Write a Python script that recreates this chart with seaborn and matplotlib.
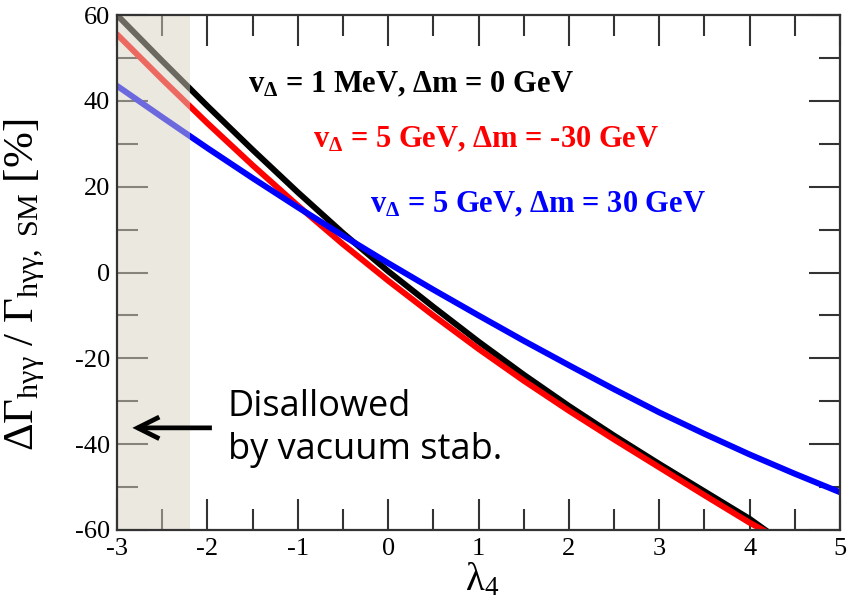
import matplotlib
matplotlib.use("Agg")
import matplotlib.pyplot as plt
import seaborn as sns
import pandas as pd
from matplotlib.ticker import MultipleLocator

# ---- data ----
lam4 = [-3.0, -2.5, -2.0, -1.5, -1.0, -0.5, 0.0, 0.5, 1.0, 1.5, 2.0, 2.5, 3.0, 3.5, 4.0, 4.2]
black_y = [60.0, 49.3, 38.8, 28.6, 18.7, 9.2, 0.3, -8.0, -16.1, -23.8, -31.1, -38.0, -44.6, -51.0, -57.4, -60.4]
red_y = [55.5, 45.0, 34.8, 25.0, 15.6, 6.6, -1.9, -10.0, -17.8, -25.2, -32.2, -38.9, -45.4, -51.9, -58.3, -60.6]

lam4_blue = [-3.0, -2.5, -2.0, -1.5, -1.0, -0.5, 0.0, 0.5, 1.0, 1.5, 2.0, 2.5, 3.0, 3.5, 4.0, 4.5, 5.0]
blue_y = [43.5, 36.2, 29.0, 22.0, 15.2, 8.6, 2.2, -4.0, -10.0, -15.9, -21.6, -27.2, -32.6, -37.6, -42.4, -46.9, -51.2]

labels = ["= 1 MeV, \u0394m = 0 GeV", "= 5 GeV, \u0394m = -30 GeV", "= 5 GeV, \u0394m = 30 GeV"]
note_lines = ["Disallowed", "by vacuum stab."]
x_ticks = [-3, -2, -1, 0, 1, 2, 3, 4, 5]
y_ticks = [-60, -40, -20, 0, 20, 40, 60]

df_black = pd.DataFrame({"lam4": lam4, "val": black_y})
df_red = pd.DataFrame({"lam4": lam4, "val": red_y})
df_blue = pd.DataFrame({"lam4": lam4_blue, "val": blue_y})

sns.set_theme(style="ticks")
plt.rcParams["font.family"] = ["Liberation Serif", "DejaVu Serif"]
plt.rcParams["axes.unicode_minus"] = False
plt.rcParams["text.color"] = "black"
plt.rcParams["axes.labelcolor"] = "black"
plt.rcParams["xtick.labelcolor"] = "black"
plt.rcParams["ytick.labelcolor"] = "black"
plt.rcParams["mathtext.fontset"] = "custom"
plt.rcParams["mathtext.rm"] = "Liberation Serif"
plt.rcParams["mathtext.it"] = "Liberation Serif:italic"
plt.rcParams["mathtext.bf"] = "Liberation Serif:bold"

fig = plt.figure(figsize=(8.48, 6.13), dpi=100)
ax = fig.add_axes([117/848, 1-530/613, (840-117)/848, (530-15)/613])

lw = 4.3
sns.lineplot(data=df_black, x="lam4", y="val", color="black", lw=lw, ax=ax, zorder=3)
sns.lineplot(data=df_red, x="lam4", y="val", color="#ff0000", lw=lw, ax=ax, zorder=3)
sns.lineplot(data=df_blue, x="lam4", y="val", color="#0000ff", lw=lw, ax=ax, zorder=3)

# disallowed region (overlay)
ax.axvspan(-3, -2.19, color="#d9d3c1", alpha=0.5, lw=0, zorder=4)

ax.set_xlim(-3, 5)
ax.set_ylim(-60, 60)
ax.set_xticks(x_ticks)
ax.set_yticks(y_ticks)
ax.xaxis.set_minor_locator(MultipleLocator(0.5))
ax.yaxis.set_minor_locator(MultipleLocator(10))
ax.tick_params(which="both", direction="in", top=True, right=True, color="#333333",
               labelsize=19, width=1.5, labelcolor="black")
ax.tick_params(axis="y", pad=5)
ax.tick_params(axis="x", pad=6)
ax.tick_params(which="major", length=22)
ax.tick_params(which="minor", length=15)
for lab in ax.get_xticklabels() + ax.get_yticklabels():
    lab.set_fontfamily("Liberation Serif")
for sp in ax.spines.values():
    sp.set_visible(True)
    sp.set_color("#333333")
    sp.set_linewidth(1.6)
    sp.set_zorder(5)

ax.set_xlabel(r"$\mathregular{\lambda_4}$", fontsize=28, color="black")
ax.xaxis.set_label_coords(0.505, -0.062)
ax.set_ylabel(r"$\mathregular{\Delta\Gamma_{h\gamma\gamma}\ /\ \Gamma_{h\gamma\gamma,\ SM}\ [\%]}$",
              fontsize=31, color="black")
ax.yaxis.set_label_coords(-0.097, 0.476)

# annotations
colors = ["black", "#ff0000", "#0000ff"]
pos = [(-1.55, 42.0), (-0.83, 29.2), (-0.20, 14.0)]
for (tx, ty), c, t in zip(pos, colors, labels):
    ax.text(tx, ty, r"$\mathbf{v_{\Delta}}$ " + t, color=c, fontsize=22, fontweight="bold",
            fontfamily="Liberation Serif", ha="left", va="baseline", zorder=6)

ax.annotate("", xy=(-2.83, -36.2), xytext=(-1.95, -36.2),
            arrowprops=dict(arrowstyle="->,head_length=1.3,head_width=0.65", color="black",
                            lw=3.4, shrinkA=0, shrinkB=0, joinstyle="miter", capstyle="butt"),
            zorder=6)
for ty, t in zip([-33.4, -43.4], note_lines):
    ax.text(-1.772, ty, t, fontsize=26, fontfamily=["Open Sans", "DejaVu Sans"], color="black",
            ha="left", va="baseline", zorder=6)

fig.savefig("out.png", dpi=100)
